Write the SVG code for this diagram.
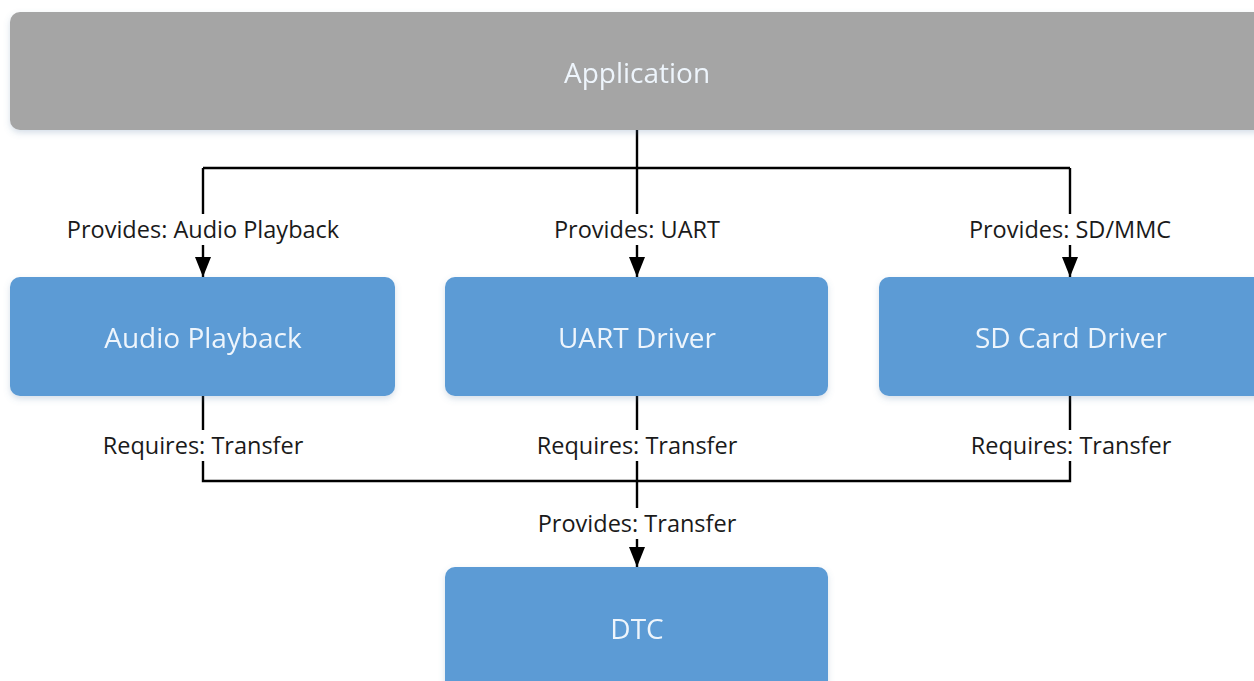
<svg xmlns="http://www.w3.org/2000/svg" width="1254" height="681" viewBox="0 0 1254 681">
  <style>
    .node-app { fill: #a5a5a5; }
    .node { fill: #5b9bd5; }
    .node-text { font-family: "Open Sans", "Noto Sans", sans-serif; font-size: 28px; fill: #eef5fc; text-anchor: middle; dominant-baseline: central; }
    .edge { fill: none; stroke: #000; stroke-width: 2.4; }
    .edge-label { font-family: "Open Sans", "Noto Sans", sans-serif; font-size: 23.5px; fill: #1a1a1a; text-anchor: middle; dominant-baseline: central; }
    .label-bg { fill: #fff; }
  </style>
  <defs>
    <marker id="arrowhead" viewBox="0 0 20 16" refX="20" refY="8" markerWidth="20" markerHeight="16" markerUnits="userSpaceOnUse" orient="auto">
      <path d="M0,0 L20,8 L0,16 z" fill="#000"/>
    </marker>
    <filter id="shadow" x="-5%" y="-20%" width="110%" height="150%">
      <feDropShadow dx="0" dy="3" stdDeviation="3" flood-color="#5b7fa6" flood-opacity="0.25"/>
    </filter>
  </defs>

  <rect width="1254" height="681" fill="#fff"/>

  <!-- connectors -->
  <g id="connectors">
    <!-- Application fan-out to the three drivers -->
    <path class="edge" d="M637,130 V168"/>
    <path class="edge" d="M203,168 H1070"/>
    <path class="edge" d="M203,168 V277" marker-end="url(#arrowhead)"/>
    <path class="edge" d="M637,168 V277" marker-end="url(#arrowhead)"/>
    <path class="edge" d="M1070,168 V277" marker-end="url(#arrowhead)"/>
    <!-- drivers fan-in to DTC -->
    <path class="edge" d="M203,396 V481 H1070 V396"/>
    <path class="edge" d="M637,396 V567" marker-end="url(#arrowhead)"/>

    <!-- labels -->
    <rect class="label-bg" x="58" y="214" width="290" height="31"/>
    <text class="edge-label" x="203" y="229">Provides: Audio Playback</text>
    <rect class="label-bg" x="546" y="214" width="182" height="31"/>
    <text class="edge-label" x="637" y="229">Provides: UART</text>
    <rect class="label-bg" x="960" y="214" width="220" height="31"/>
    <text class="edge-label" x="1070" y="229">Provides: SD/MMC</text>

    <rect class="label-bg" x="95" y="430" width="216" height="31"/>
    <text class="edge-label" x="203" y="445">Requires: Transfer</text>
    <rect class="label-bg" x="529" y="430" width="216" height="31"/>
    <text class="edge-label" x="637" y="445">Requires: Transfer</text>
    <rect class="label-bg" x="963" y="430" width="216" height="31"/>
    <text class="edge-label" x="1071" y="445">Requires: Transfer</text>

    <rect class="label-bg" x="531" y="508" width="212" height="31"/>
    <text class="edge-label" x="637" y="523">Provides: Transfer</text>
  </g>

  <!-- nodes -->
  <g id="application" filter="url(#shadow)">
    <rect class="node-app" x="10" y="12" width="1260" height="118" rx="10"/>
    <text class="node-text" x="637" y="72">Application</text>
  </g>
  <g id="audio-playback" filter="url(#shadow)">
    <rect class="node" x="10" y="277" width="385" height="119" rx="10"/>
    <text class="node-text" x="203" y="337">Audio Playback</text>
  </g>
  <g id="uart-driver" filter="url(#shadow)">
    <rect class="node" x="445" y="277" width="383" height="119" rx="10"/>
    <text class="node-text" x="637" y="337">UART Driver</text>
  </g>
  <g id="sd-card-driver" filter="url(#shadow)">
    <rect class="node" x="879" y="277" width="390" height="119" rx="10"/>
    <text class="node-text" x="1071" y="337">SD Card Driver</text>
  </g>
  <g id="dtc" filter="url(#shadow)">
    <rect class="node" x="445" y="567" width="383" height="130" rx="10"/>
    <text class="node-text" x="637" y="628">DTC</text>
  </g>
</svg>
